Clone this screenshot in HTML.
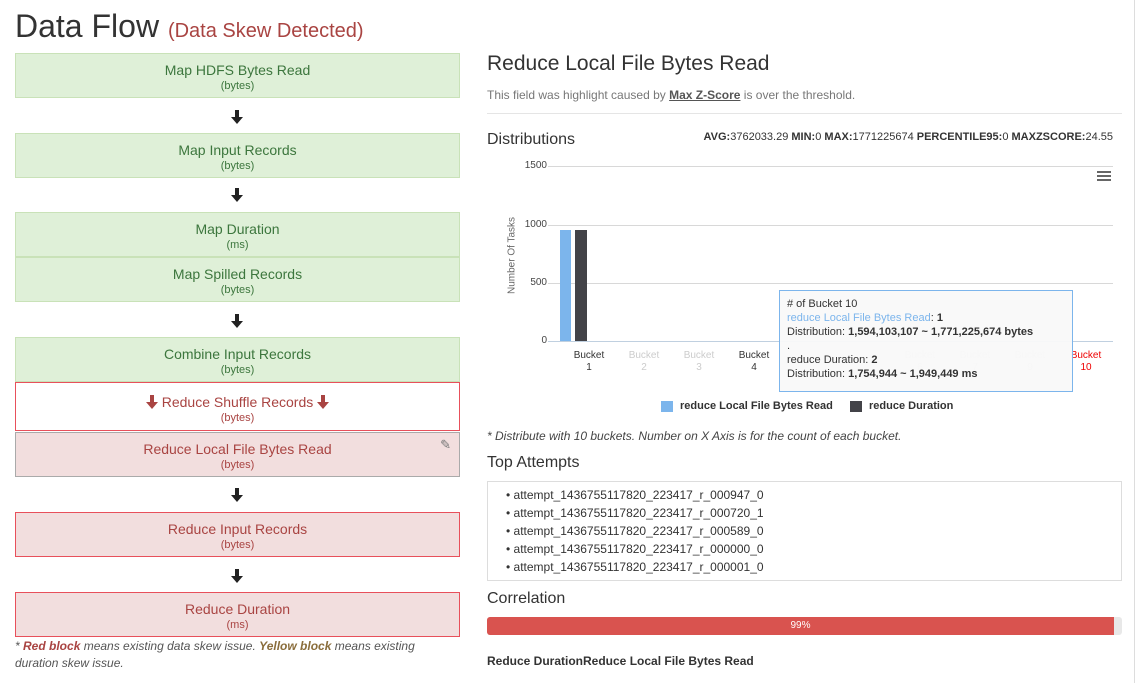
<!DOCTYPE html>
<html><head><meta charset="utf-8"><style>
body{margin:0;width:1137px;height:683px;background:#fff;font-family:"Liberation Sans",sans-serif;position:relative;overflow:hidden;color:#333}
.a{position:absolute}
.box{position:absolute;left:15px;width:445px;border:1px solid #c9e2b8;background:#dff0d8;color:#3c763d;text-align:center;font-size:14px;box-sizing:border-box;line-height:16px}
.box small{display:block;font-size:11px;margin-top:1px;line-height:14px}
.r{background:#f2dede;border-color:#e8505b;color:#a94442}
.arr{position:absolute;left:231px}
.tk{position:absolute;width:56px;text-align:center;font-size:10px;color:#ccc;line-height:12px}
.g{position:absolute;left:548px;width:565px;height:1px;background:#d8d8d8}
.yl{position:absolute;left:520px;width:27px;text-align:right;font-size:10px;color:#444}
</style></head><body>
<svg width="0" height="0" style="position:absolute"><defs><symbol id="ar" viewBox="0 0 12 14"><path d="M4 0h4v7h4l-6 7-6-7h4z"/></symbol></defs></svg>
<div class="a" style="left:15px;top:8px;font-size:32px;color:#333">Data Flow <span style="font-size:20px;color:#a94442">(Data Skew Detected)</span></div>

<div class="box" style="top:53px;height:45px;padding-top:8px">Map HDFS Bytes Read<small>(bytes)</small></div>
<svg class="arr" style="top:110px" width="12" height="14" fill="#222"><use href="#ar"/></svg>
<div class="box" style="top:133px;height:45px;padding-top:8px">Map Input Records<small>(bytes)</small></div>
<svg class="arr" style="top:188px" width="12" height="14" fill="#222"><use href="#ar"/></svg>
<div class="box" style="top:212px;height:45px;padding-top:8px">Map Duration<small>(ms)</small></div>
<div class="box" style="top:257px;height:45px;padding-top:8px">Map Spilled Records<small>(bytes)</small></div>
<svg class="arr" style="top:314px" width="12" height="14" fill="#222"><use href="#ar"/></svg>
<div class="box" style="top:337px;height:45px;padding-top:8px">Combine Input Records<small>(bytes)</small></div>
<div class="box r" style="top:382px;height:49px;padding-top:11px;background:#fff"><svg width="12" height="14" fill="#a94442" style="vertical-align:-2px"><use href="#ar"/></svg> Reduce Shuffle Records <svg width="12" height="14" fill="#a94442" style="vertical-align:-2px"><use href="#ar"/></svg><small>(bytes)</small></div>
<div class="box r" style="top:432px;height:45px;padding-top:8px;border-color:#aaa">Reduce Local File Bytes Read<small>(bytes)</small><span class="a" style="right:8px;top:4px;color:#777;font-size:13px">✎</span></div>
<svg class="arr" style="top:488px" width="12" height="14" fill="#222"><use href="#ar"/></svg>
<div class="box r" style="top:512px;height:45px;padding-top:8px">Reduce Input Records<small>(bytes)</small></div>
<svg class="arr" style="top:569px" width="12" height="14" fill="#222"><use href="#ar"/></svg>
<div class="box r" style="top:592px;height:45px;padding-top:8px">Reduce Duration<small>(ms)</small></div>
<div class="a" style="left:15px;top:638px;width:440px;font-size:12px;font-style:italic;color:#555;line-height:17px">* <b style="color:#a94442">Red block</b> means existing data skew issue. <b style="color:#8a6d3b">Yellow block</b> means existing duration skew issue.</div>

<div class="a" style="left:487px;top:52px;font-size:21px;color:#333">Reduce Local File Bytes Read</div>
<div class="a" style="left:487px;top:88px;font-size:12px;color:#777">This field was highlight caused by <b style="text-decoration:underline;color:#555">Max Z-Score</b> is over the threshold.</div>
<div class="a" style="left:487px;top:113px;width:635px;height:1px;background:#e5e5e5"></div>
<div class="a" style="left:487px;top:131px;font-size:16px">Distributions</div>
<div class="a" style="right:24px;top:131px;font-size:11px;color:#333"><b>AVG:</b>3762033.29 <b>MIN:</b>0 <b>MAX:</b>1771225674 <b>PERCENTILE95:</b>0 <b>MAXZSCORE:</b>24.55</div>
<div class="a" style="left:1097px;top:171px;width:14px"><div style="height:2px;background:#666;margin-bottom:2px"></div><div style="height:2px;background:#666;margin-bottom:2px"></div><div style="height:2px;background:#666"></div></div>
<div class="g" style="top:166px"></div><div class="g" style="top:225px"></div><div class="g" style="top:283px"></div><div class="g" style="top:341px;background:#c0d0e0"></div>
<div class="yl" style="top:160px">1500</div><div class="yl" style="top:219px">1000</div><div class="yl" style="top:277px">500</div><div class="yl" style="top:335px">0</div>
<div class="a" style="left:462px;top:250px;transform:rotate(-90deg);font-size:10px;color:#666;width:100px;text-align:center">Number Of Tasks</div>
<div class="a" style="left:560px;top:230px;width:11px;height:111px;background:#7cb5ec"></div>
<div class="a" style="left:575px;top:230px;width:12px;height:111px;background:#434348"></div>
<div class="tk" style="left:561px;top:350px;color:#333">Bucket<br>1</div>
<div class="tk" style="left:616px;top:350px">Bucket<br>2</div>
<div class="tk" style="left:671px;top:350px">Bucket<br>3</div>
<div class="tk" style="left:726px;top:350px;color:#333">Bucket<br>4</div>
<div class="tk" style="left:892px;top:350px">Bucket<br>6</div>
<div class="tk" style="left:947px;top:350px">Bucket<br>7</div>
<div class="tk" style="left:1002px;top:350px">Bucket<br>9</div>
<div class="tk" style="left:1058px;top:350px;color:#e00">Bucket<br>10</div>
<div class="a" style="left:779px;top:290px;width:294px;height:102px;border:1px solid #7cb5ec;background:rgba(249,249,249,.95);font-size:11px;line-height:14px;padding:6px 7px;box-sizing:border-box;color:#333">
# of Bucket 10<br><span style="color:#7cb5ec">reduce Local File Bytes Read</span>: <b>1</b><br>Distribution: <b>1,594,103,107 ~ 1,771,225,674 bytes</b><br>.<br>reduce Duration: <b>2</b><br>Distribution: <b>1,754,944 ~ 1,949,449 ms</b></div>
<div class="a" style="left:661px;top:401px;width:12px;height:11px;background:#7cb5ec"></div>
<div class="a" style="left:680px;top:400px;font-size:11px;font-weight:bold">reduce Local File Bytes Read</div>
<div class="a" style="left:850px;top:401px;width:12px;height:11px;background:#434348"></div>
<div class="a" style="left:869px;top:400px;font-size:11px;font-weight:bold">reduce Duration</div>
<div class="a" style="left:487px;top:429px;font-size:12px;font-style:italic;color:#444">* Distribute with 10 buckets. Number on X Axis is for the count of each bucket.</div>
<div class="a" style="left:487px;top:454px;font-size:16px">Top Attempts</div>
<div class="a" style="left:487px;top:481px;width:635px;height:100px;border:1px solid #ddd;box-sizing:border-box;font-size:12px;line-height:18px;padding:4px 0 0 18px">
• attempt_1436755117820_223417_r_000947_0<br>• attempt_1436755117820_223417_r_000720_1<br>• attempt_1436755117820_223417_r_000589_0<br>• attempt_1436755117820_223417_r_000000_0<br>• attempt_1436755117820_223417_r_000001_0</div>
<div class="a" style="left:487px;top:590px;font-size:16px">Correlation</div>
<div class="a" style="left:487px;top:617px;width:635px;height:18px;background:#e8e8e8;border-radius:3px"><div style="width:627px;height:18px;background:#d9534f;color:#fff;font-size:10px;text-align:center;line-height:18px;border-radius:3px 0 0 3px">99%</div></div>
<div class="a" style="left:487px;top:654px;font-size:12px;font-weight:bold">Reduce DurationReduce Local File Bytes Read</div>
<div class="a" style="left:1134px;top:0;width:1px;height:683px;background:#ddd"></div>
</body></html>
